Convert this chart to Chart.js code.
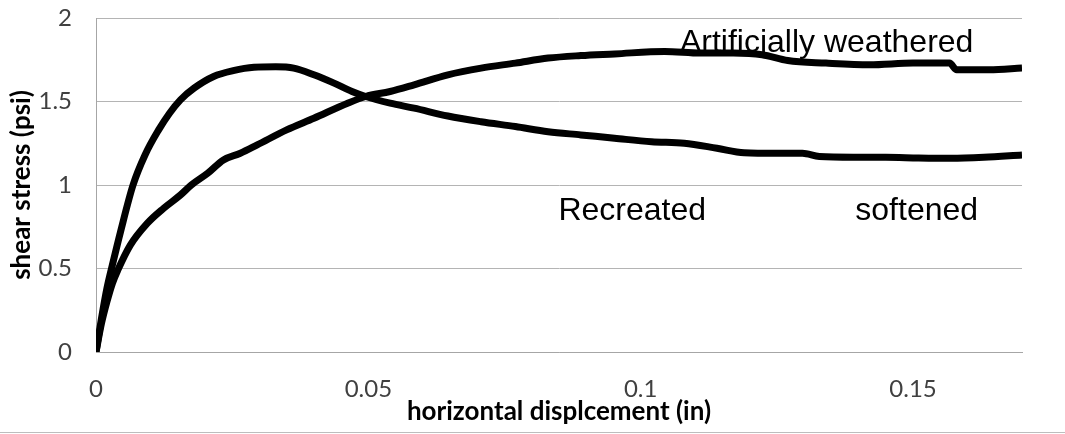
<!DOCTYPE html>
<html>
<head>
<meta charset="utf-8">
<script src="https://cdn.jsdelivr.net/npm/chart.js@4.4.1/dist/chart.umd.min.js"></script>
<style>
  body { margin: 0; background: #fff; }
  #wrap { width: 1065px; height: 432px; border-bottom: 1px solid #bdbdbd; }
</style>
</head>
<body>
<div id="wrap"><canvas id="myChart" width="1065" height="432"></canvas></div>
<script>
// horizontal displacement (in) vs shear stress (psi)
const softenedX = [0, 0.001, 0.002, 0.003, 0.0045, 0.0068, 0.009, 0.0115, 0.0135, 0.0155,
  0.018, 0.0216, 0.0252, 0.029, 0.033, 0.0363, 0.04, 0.0437, 0.047, 0.0495,
  0.054, 0.0584, 0.0646, 0.0707, 0.077, 0.083, 0.089, 0.0952, 0.102, 0.108,
  0.114, 0.119, 0.125, 0.1297, 0.1328, 0.139, 0.145, 0.151, 0.157, 0.163, 0.17];
const softenedY = [0, 0.2, 0.38, 0.52, 0.72, 1.0, 1.18, 1.33, 1.43, 1.51,
  1.58, 1.65, 1.685, 1.705, 1.708, 1.7, 1.66, 1.61, 1.56, 1.53,
  1.49, 1.46, 1.413, 1.379, 1.35, 1.319, 1.3, 1.28, 1.259, 1.25,
  1.22, 1.193, 1.19, 1.19, 1.17, 1.166, 1.166, 1.162, 1.16, 1.166, 1.18];

const weatheredX = [0, 0.001, 0.002, 0.003, 0.004, 0.0063, 0.0094, 0.0124, 0.0155, 0.0175,
  0.0205, 0.0234, 0.0265, 0.0296, 0.035, 0.04, 0.0462, 0.0495, 0.054, 0.0584,
  0.0646, 0.0707, 0.077, 0.083, 0.089, 0.0952, 0.1044, 0.111, 0.117, 0.1223,
  0.127, 0.134, 0.142, 0.15, 0.1567, 0.158, 0.164, 0.17];
const weatheredY = [0, 0.17, 0.3, 0.41, 0.49, 0.64, 0.77, 0.86, 0.94, 1.0,
  1.07, 1.15, 1.19, 1.24, 1.33, 1.4, 1.49, 1.53, 1.56, 1.6,
  1.66, 1.7, 1.73, 1.76, 1.775, 1.785, 1.8, 1.79, 1.79, 1.78,
  1.745, 1.73, 1.72, 1.73, 1.73, 1.69, 1.69, 1.7];

const xTicks = [0, 0.05, 0.1, 0.15];
const yTicks = [0, 0.5, 1, 1.5, 2];

// text boxes on the plot, placed in data units
const notes = [
  { text: 'Artificially weathered', x: 0.1072, y: 1.796 },
  { text: 'Recreated', x: 0.0849, y: 0.79 },
  { text: 'softened', x: 0.1394, y: 0.79 },
];

const toPoints = (xs, ys) => xs.map((x, i) => ({ x: x, y: ys[i] }));

// draw the note text over the lines
const notesPlugin = {
  id: 'notes',
  afterDatasetsDraw(chart) {
    const ctx = chart.ctx;
    const xs = chart.scales.x;
    const ys = chart.scales.y;
    ctx.save();
    ctx.font = '32px "Liberation Sans", Arial, sans-serif';
    ctx.fillStyle = '#000';
    ctx.textBaseline = 'alphabetic';
    notes.forEach((n) => {
      ctx.fillText(n.text, xs.getPixelForValue(n.x), ys.getPixelForValue(n.y));
    });
    ctx.restore();
  },
};

const lineStyle = {
  borderColor: '#000',
  backgroundColor: '#000',
  borderWidth: 7,
  pointRadius: 0,
  cubicInterpolationMode: 'monotone',
  fill: false,
};

const tickFont = { family: 'Lato', size: 24 };
const titleFont = { family: 'Lato', size: 26, weight: 'bold' };

const chart = new Chart(document.getElementById('myChart').getContext('2d'), {
  type: 'line',
  data: {
    datasets: [
      Object.assign({ label: 'Recreated softened', data: toPoints(softenedX, softenedY) }, lineStyle),
      Object.assign({ label: 'Artificially weathered', data: toPoints(weatheredX, weatheredY) }, lineStyle),
    ],
  },
  plugins: [notesPlugin],
  options: {
    responsive: false,
    animation: false,
    layout: { padding: { top: 18, right: 43, left: 0, bottom: 0 } },
    plugins: {
      legend: { display: false },
      tooltip: { enabled: false },
    },
    scales: {
      x: {
        type: 'linear',
        min: 0,
        max: 0.17,
        afterBuildTicks: (scale) => { scale.ticks = xTicks.map((v) => ({ value: v })); },
        afterFit: (scale) => {
          scale.height = 80;
          scale.paddingLeft = 0;
          scale.paddingRight = 0;
        },
        grid: { display: false, drawTicks: false },
        border: { display: true, color: '#a6a6a6', width: 1 },
        ticks: {
          padding: 23,
          color: '#404040',
          font: tickFont,
          maxRotation: 0,
          callback: (v) => String(v),
        },
        title: {
          display: true,
          text: 'horizontal displcement (in)',
          color: '#000',
          font: titleFont,
          padding: { top: 0, bottom: 5 },
        },
      },
      y: {
        min: 0,
        max: 2,
        afterBuildTicks: (scale) => { scale.ticks = yTicks.map((v) => ({ value: v })); },
        afterFit: (scale) => {
          scale.width = 96;
          scale.paddingTop = 0;
          scale.paddingBottom = 0;
        },
        grid: { color: '#b4b4b4', lineWidth: 1, drawTicks: false },
        border: { display: true, color: '#a6a6a6', width: 1 },
        ticks: {
          padding: 24,
          color: '#404040',
          font: tickFont,
          callback: (v) => String(v),
        },
        title: {
          display: true,
          text: 'shear stress (psi)',
          color: '#000',
          font: titleFont,
          padding: { top: 6, bottom: 0 },
        },
      },
    },
  },
});
</script>
</body>
</html>
